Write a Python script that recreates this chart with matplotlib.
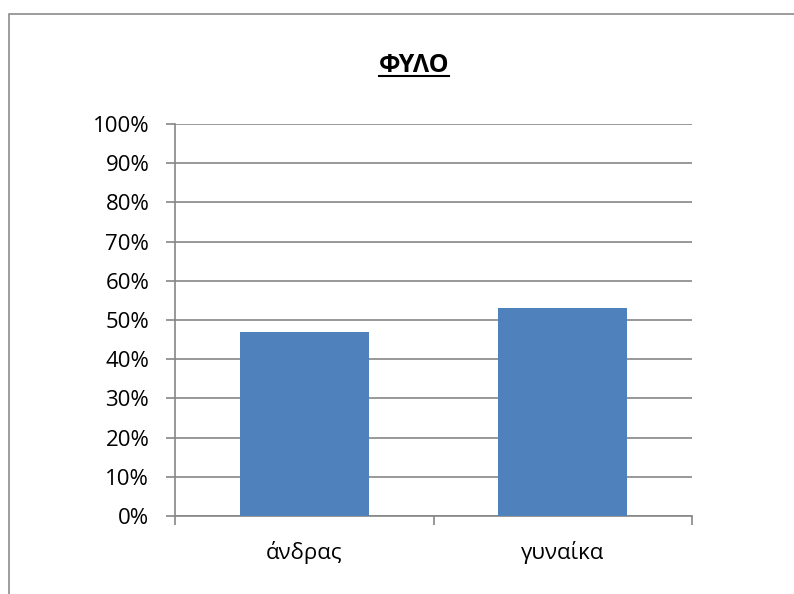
import matplotlib
matplotlib.use("Agg")
import matplotlib.pyplot as plt
from matplotlib.patches import Rectangle
from matplotlib.lines import Line2D
from matplotlib.ticker import PercentFormatter, MultipleLocator, FixedLocator

# data
categories = ['άνδρας', 'γυναίκα']
shares = [47, 53]
title = 'ΦΥΛΟ'

grid_col = '#868686'
bar_col = '#4f81bd'

plt.rcParams['font.family'] = ['Open Sans', 'DejaVu Sans']

fig = plt.figure(figsize=(7.94, 5.94), dpi=100)
ax = fig.add_axes([175/794, 1 - 516/594, (692 - 175)/794, (516 - 124)/594])

x = list(range(len(categories)))
ax.bar(x, shares, width=0.5, color=bar_col, zorder=3)

ax.set_xlim(-0.5, len(categories) - 0.5)
ax.set_ylim(0, 100)
ax.yaxis.set_major_locator(MultipleLocator(10))
ax.yaxis.set_major_formatter(PercentFormatter(decimals=0))
ax.grid(axis='y', color=grid_col, linewidth=1.2, zorder=0)

ax.set_xticks(x)
ax.set_xticklabels(categories)
ax.xaxis.set_minor_locator(FixedLocator([-0.5 + i for i in range(len(categories) + 1)]))
ax.tick_params(axis='x', which='major', length=0, pad=18, labelsize=16)
ax.tick_params(axis='x', which='minor', length=6.5, color=grid_col, width=1.2, direction='out')
ax.tick_params(axis='y', length=6.5, color=grid_col, width=1.2, pad=12, labelsize=16)

for s in ['top', 'right']:
    ax.spines[s].set_visible(False)
for s in ['left', 'bottom']:
    ax.spines[s].set_color(grid_col)
    ax.spines[s].set_linewidth(1.2)

# title, bold with underline
t = fig.text(414/794, 1 - 72/594, title, ha='center', va='baseline',
             fontsize=18, fontweight='bold')
fig.canvas.draw()
bb = t.get_window_extent().transformed(fig.transFigure.inverted())
uy = 1 - 76/594
fig.add_artist(Line2D([bb.x0, bb.x1], [uy, uy],
                      transform=fig.transFigure, color='black', linewidth=1.5))

# chart border (runs off the image on the right and bottom)
fig.add_artist(Rectangle((9/794, -0.2), 1.2, 1 - 14/594 + 0.2,
                         transform=fig.transFigure, fill=False,
                         edgecolor='#8c8c8c', linewidth=1.2))

fig.savefig('out.png', dpi=100)
